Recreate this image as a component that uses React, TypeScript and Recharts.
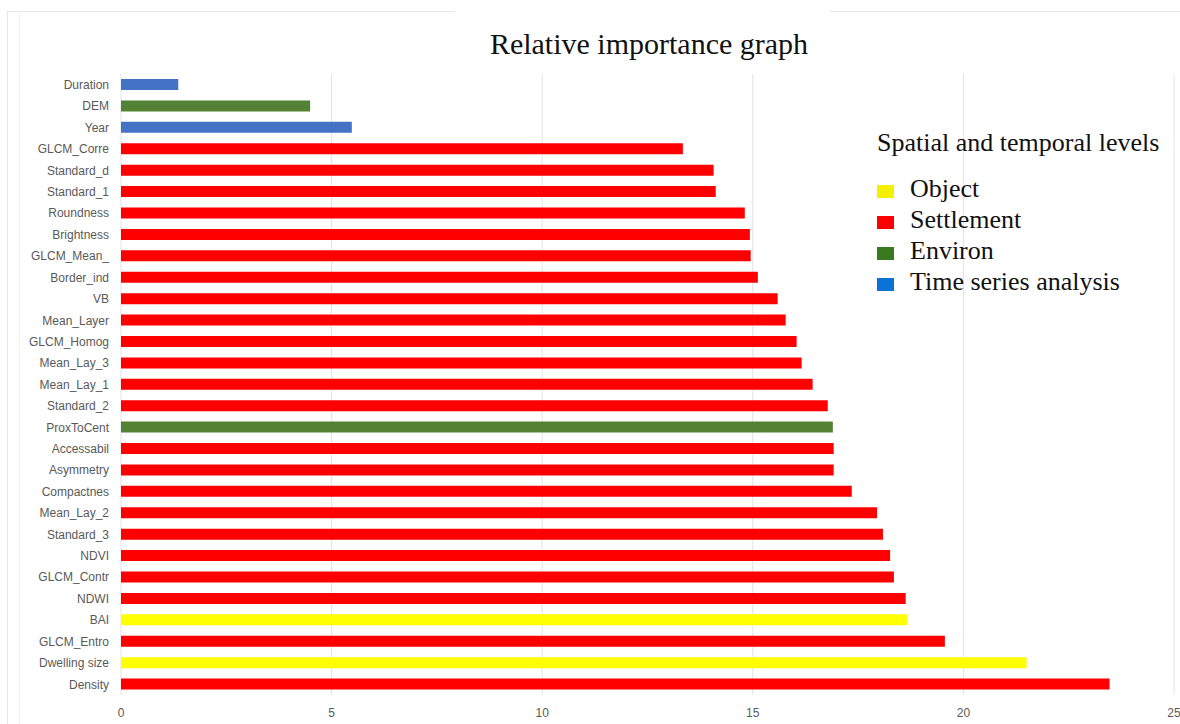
import { BarChart, Bar, XAxis, YAxis, CartesianGrid, Cell } from 'recharts'

const categories = [
  'Duration', 'DEM', 'Year', 'GLCM_Corre', 'Standard_d', 'Standard_1', 'Roundness',
  'Brightness', 'GLCM_Mean_', 'Border_ind', 'VB', 'Mean_Layer', 'GLCM_Homog',
  'Mean_Lay_3', 'Mean_Lay_1', 'Standard_2', 'ProxToCent', 'Accessabil', 'Asymmetry',
  'Compactnes', 'Mean_Lay_2', 'Standard_3', 'NDVI', 'GLCM_Contr', 'NDWI', 'BAI',
  'GLCM_Entro', 'Dwelling size', 'Density',
]

const importance = [
  1.36, 4.49, 5.48, 13.34, 14.07, 14.12, 14.81,
  14.93, 14.95, 15.12, 15.59, 15.78, 16.04,
  16.16, 16.42, 16.78, 16.9, 16.92, 16.92,
  17.35, 17.95, 18.09, 18.26, 18.35, 18.63, 18.66,
  19.56, 21.5, 23.47,
]

// level of each feature
const levels = [
  'time', 'environ', 'time', 'settlement', 'settlement', 'settlement', 'settlement',
  'settlement', 'settlement', 'settlement', 'settlement', 'settlement', 'settlement',
  'settlement', 'settlement', 'settlement', 'environ', 'settlement', 'settlement',
  'settlement', 'settlement', 'settlement', 'settlement', 'settlement', 'settlement', 'object',
  'settlement', 'object', 'settlement',
]

const xTicks = [0, 5, 10, 15, 20, 25]

const BAR_COLORS: Record<string, string> = {
  object: '#ffff00',
  settlement: '#ff0000',
  environ: '#548235',
  time: '#4472c4',
}

const legendItems = [
  { label: 'Object', color: '#f4f000' },
  { label: 'Settlement', color: '#ff0000' },
  { label: 'Environ', color: '#3a7a1e' },
  { label: 'Time series analysis', color: '#0b72d6' },
]

const data = categories.map((name, i) => ({ name, value: importance[i], level: levels[i] }))

const serif = '"Liberation Serif", "Times New Roman", serif'
const sans = '"Liberation Sans", Arial, sans-serif'

export default function App() {
  return (
    <div style={{ position: 'absolute', left: 0, top: 0, width: 1180, height: 724, background: '#fff', overflow: 'hidden' }}>
      {/* faint frame */}
      <div style={{ position: 'absolute', left: 7, top: 11, width: 448, height: 1, background: '#e3e6ec' }} />
      <div style={{ position: 'absolute', left: 830, top: 11, width: 350, height: 1, background: '#e3e6ec' }} />
      <div style={{ position: 'absolute', left: 7, top: 11, width: 1, height: 713, background: '#e3e6ec' }} />
      <div style={{ position: 'absolute', left: 19, top: 12, width: 1, height: 712, background: '#eef0f4' }} />

      <BarChart
        width={1180}
        height={724}
        data={data}
        layout="vertical"
        margin={{ top: 74, right: 6, bottom: 0, left: 0 }}
        barSize={11}
      >
        <CartesianGrid horizontal={false} stroke="#dfe2e8" />
        <XAxis
          type="number"
          domain={[0, 25]}
          ticks={xTicks}
          height={29}
          axisLine={false}
          tickLine={false}
          tickMargin={7}
          tick={{ fill: '#595959', fontSize: 12, fontFamily: sans }}
        />
        <YAxis
          type="category"
          dataKey="name"
          width={121}
          axisLine={false}
          tickLine={false}
          tickMargin={6}
          interval={0}
          tick={{ fill: '#595959', fontSize: 12, fontFamily: sans }}
        />
        <Bar dataKey="value" isAnimationActive={false}>
          {data.map((d, i) => (
            <Cell key={i} fill={BAR_COLORS[d.level]} />
          ))}
        </Bar>
      </BarChart>

      <div
        style={{
          position: 'absolute', left: 0, top: 27, width: 1298, textAlign: 'center',
          fontFamily: serif, fontSize: 30, color: '#111',
        }}
      >
        Relative importance graph
      </div>

      <div style={{ position: 'absolute', left: 877, top: 128, fontFamily: serif, color: '#111' }}>
        <div style={{ fontSize: 26, lineHeight: '30px', marginBottom: 15, whiteSpace: 'nowrap' }}>Spatial and temporal levels</div>
        {legendItems.map((it) => (
          <div key={it.label} style={{ display: 'flex', alignItems: 'center', height: 31 }}>
            <span style={{ display: 'inline-block', width: 17, height: 13, background: it.color, marginRight: 16, transform: 'translateY(3px)' }} />
            <span style={{ fontSize: 26, lineHeight: '31px', whiteSpace: 'nowrap' }}>{it.label}</span>
          </div>
        ))}
      </div>
    </div>
  )
}
